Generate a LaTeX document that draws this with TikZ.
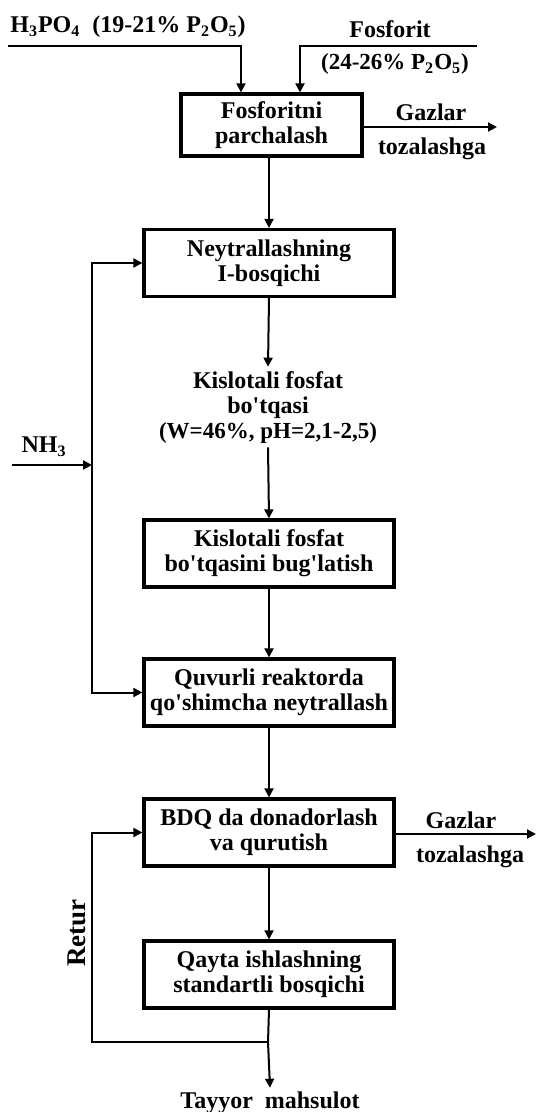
\documentclass[tikz,border=0pt]{standalone}
\usepackage{fontspec}
\setmainfont{Liberation Serif}[Ligatures=TeXOff]
\usetikzlibrary{arrows.meta, positioning}
\tikzset{
    stepbox/.style={draw, line width=1.6pt, minimum width=125pt,
        minimum height=33.5pt, align=center, inner sep=0pt,
        font=\bfseries\fontsize{12}{12.5}\selectfont},
    flowtext/.style={align=center, inner sep=2pt,
        font=\bfseries\fontsize{12}{12.5}\selectfont},
    smalltext/.style={flowtext, font=\bfseries\fontsize{11.5}{12}\selectfont},
    pipe/.style={line width=1pt},
    flow/.style={pipe, -{Triangle[length=4.5pt, width=4.5pt]}},
}

\begin{document}
\begin{tikzpicture}[x=0.5pt, y=-0.5pt]
    \useasboundingbox (0,0) rectangle (537,1112);

    % process steps
    \node[stepbox, minimum width=90.5pt, minimum height=31pt] (razl)
        at (271.5,125) {Fosforitni\\parchalash};
    \node[stepbox] (neytr) at (269,263) {Neytrallashning\\I-bosqichi};
    \node[flowtext] (pulpa) at (268,407)
        {Kislotali fosfat\\bo'tqasi\\{\fontsize{11.5}{12}\selectfont
        (W=46\%, pH=2,1-2,5)}};
    \node[stepbox] (bugl) at (269,553.5) {Kislotali fosfat\\bo'tqasini bug'latish};
    \node[stepbox] (quvur) at (269,692.5) {Quvurli reaktorda\\qo'shimcha neytrallash};
    \node[stepbox] (bdq) at (269,832.5) {BDQ da donadorlash\\va qurutish};
    \node[stepbox] (qayta) at (269,974.5) {Qayta ishlashning\\standartli bosqichi};
    \node[flowtext] (tayyor) at (270,1103) {Tayyor\ \ mahsulot};

    % feeds
    \coordinate (acidin) at (8,46);
    \coordinate (fosin) at (477,46);
    \node[flowtext, anchor=west] (acid) at (6,27)
        {H\textsubscript{3}PO\textsubscript{4}\ \ (19-21\% P\textsubscript{2}O\textsubscript{5})};
    \node[flowtext] (fosf) at (390,29) {Fosforit};
    \node[smalltext] (fosfp) at (395,64) {(24-26\% P\textsubscript{2}O\textsubscript{5})};
    \draw[flow] (acidin) -| ([xshift=-15.25pt]razl.north);
    \draw[flow] (fosin) -| ([xshift=14.25pt]razl.north);

    % off-gas
    \coordinate (gasout1) at (497,127);
    \coordinate (gasout2) at (536,834);
    \node[flowtext] (gaz1) at (431,112) {Gazlar};
    \node[flowtext] (toz1) at (432,149) {tozalashga};
    \node[flowtext] (gaz2) at (461,820) {Gazlar};
    \node[flowtext] (toz2) at (470,857) {tozalashga};
    \draw[flow] (razl.east |- gasout1) -- (gasout1);
    \draw[flow] (bdq.east |- gasout2) -- (gasout2);

    % main line
    \draw[flow] (neytr.north |- razl.south) -- (neytr.north);
    \draw[flow] (neytr.south) -- (pulpa.north);
    \draw[flow] (pulpa.south) -- (bugl.north);
    \draw[flow] (bugl.south) -- (quvur.north);
    \draw[flow] (quvur.south) -- (bdq.north);
    \draw[flow] (bdq.south) -- (qayta.north);

    % ammonia
    \coordinate (nh3in) at (12,465);
    \coordinate (nh3split) at (92,465);
    \node[flowtext] (nh3) at (44,447) {NH\textsubscript{3}};
    \draw[flow] (nh3in) -- (nh3split);
    \draw[flow] (nh3split) |- (neytr.west);
    \draw[flow] (nh3split) |- (quvur.west);

    % recycle and product
    \coordinate (retsplit) at (268,1042);
    \coordinate (retcorner) at (92,1042);
    \node[flowtext, rotate=90, font=\bfseries\fontsize{13.5}{14}\selectfont]
        (retur) at (77,933) {Retur};
    \draw[pipe] (qayta.south) -- (retsplit);
    \draw[flow] (retsplit) -- (retcorner) |- (bdq.west);
    \draw[flow] (retsplit) -- (tayyor.north);
\end{tikzpicture}
\end{document}
